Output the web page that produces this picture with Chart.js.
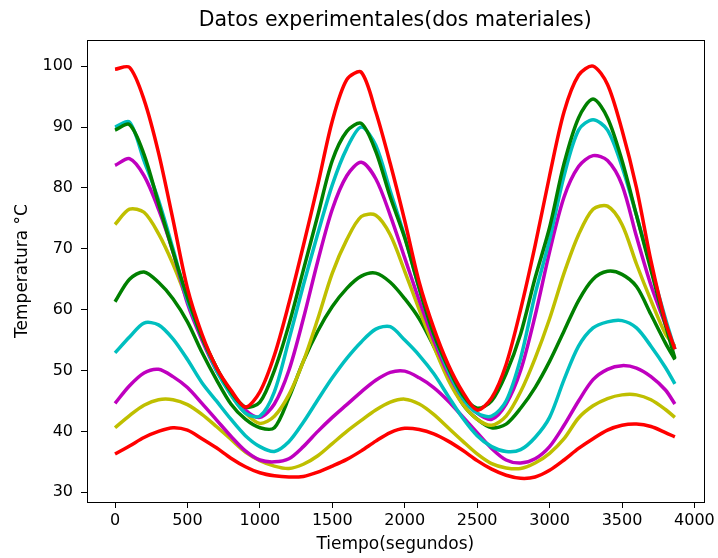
<!DOCTYPE html>
<html>
<head>
<meta charset="utf-8">
<script src="https://cdn.jsdelivr.net/npm/chart.js@4.4.0/dist/chart.umd.min.js"></script>
<style>
  body { margin: 0; background: #fff; }
</style>
</head>
<body>
<canvas id="grafica" width="718" height="558"></canvas>
<script>
// tiempo en segundos
const tiempos = [0, 100, 200, 300, 400, 500, 600, 700, 800, 900,
  1000, 1100, 1200, 1300, 1400, 1500, 1600, 1700, 1800, 1900,
  2000, 2100, 2200, 2300, 2400, 2500, 2600, 2700, 2800, 2900,
  3000, 3100, 3200, 3300, 3400, 3500, 3600, 3700, 3800, 3865];

// material 1 (curvas de mayor amplitud)
const rojo1 = [99.5, 99.8, 94.5, 85.8, 74.8, 63.5, 56, 50.5, 46.8, 44,
  46.5, 52.5, 61, 70.5, 80.5, 91, 97.8, 99, 92.5, 84,
  74.6, 64.5, 57, 51, 46.5, 43.5, 45.5, 51, 60, 70.5,
  82, 92.5, 98.5, 100, 97, 89.5, 80, 68, 58, 53.5];
const verde1 = [89.5, 90.4, 85.5, 77.5, 69.5, 62, 55.5, 50.5, 46.5, 44,
  44.8, 50, 57.5, 66.5, 75.5, 84.5, 89.3, 90.6, 86, 78.5,
  71.8, 63.5, 56, 50.5, 46, 43.8, 45, 49.5, 56, 65.2,
  73.5, 84, 91.5, 94.6, 91.5, 84.5, 75.5, 66.5, 57.5, 52];
const cian1 = [90, 90.8, 84.5, 78, 70, 61.5, 55.5, 50, 46, 43,
  42.5, 46.5, 55, 64, 72.5, 80.5, 86.5, 90, 87, 79.5,
  72, 63.5, 56, 50, 45.5, 43, 42.5, 45, 52, 62.5,
  71.5, 82, 89.5, 91.2, 89.5, 83.5, 75.5, 67, 58.5, 53.5];
const magenta1 = [83.7, 84.8, 82, 76.5, 69.5, 61, 55, 50, 46.5, 43.5,
  42.3, 44.5, 50, 58.5, 68, 76.5, 82, 84.2, 81.5, 75.5,
  68.5, 61.5, 55, 49.5, 45.5, 43, 42, 44.5, 50, 59,
  69.5, 78.5, 83.5, 85.3, 84.5, 80.5, 72, 64, 57.5, 53.5];
const amarillo1 = [74, 76.5, 76, 72.5, 67.5, 61.5, 55.5, 50.5, 46, 43,
  41.3, 42.5, 46, 51.5, 58.5, 66, 71.5, 75.3, 75.5, 72.3,
  66.3, 60, 54, 48.5, 44.5, 42, 41, 42.5, 46.5, 52,
  58.5, 66, 72.3, 76.5, 77, 74, 67.5, 61.5, 56, 54];

// material 2 (curvas de menor amplitud)
const verde2 = [61.3, 65, 66.2, 64.5, 61.8, 58, 53, 48.5, 44.5, 42,
  40.6, 40.6, 45.5, 51.5, 56.5, 60.5, 63.5, 65.5, 66, 64.5,
  61.8, 58.5, 54, 49, 44.5, 42, 40.6, 41.2, 43.8, 47.2,
  51.5, 56.5, 61.5, 65, 66.3, 65.8, 63.8, 59.2, 54.5, 51.8];
const cian2 = [52.9, 55.5, 57.8, 57.5, 55.2, 51.8, 48, 45, 42, 39.3,
  37.5, 36.7, 38.3, 41.5, 45.2, 48.8, 52, 54.7, 56.8, 57.2,
  55, 52.5, 49.5, 45.8, 42.2, 39.3, 37.5, 36.7, 37, 39,
  42.3, 48.5, 54, 57, 58, 58.2, 57, 54, 50.5, 47.8];
const magenta2 = [44.6, 47.5, 49.6, 50.2, 49, 47.2, 44.6, 41.9, 39.2, 36.8,
  35.3, 35, 35.5, 37.5, 40, 42.3, 44.4, 46.5, 48.4, 49.7,
  49.9, 48.8, 47.2, 45, 42.4, 39.8, 37.2, 35.3, 34.8, 35.5,
  37.5, 41, 45, 48.5, 50.2, 50.8, 50.4, 49, 46.8, 44.5];
const amarillo2 = [40.6, 42.6, 44.3, 45.2, 45.2, 44.4, 42.8, 40.8, 38.7, 36.6,
  35.2, 34.3, 33.9, 34.6, 36, 38, 40, 41.8, 43.5, 44.8,
  45.3, 44.5, 42.8, 40.6, 38.4, 36.3, 34.7, 34, 33.9, 34.8,
  36.4, 38.8, 42.2, 44.2, 45.4, 46, 46, 45.2, 43.6, 42.3];
const rojo2 = [36.3, 37.6, 39, 40, 40.6, 40.2, 38.8, 37.3, 35.6, 34.2,
  33.2, 32.7, 32.5, 32.6, 33.3, 34.3, 35.4, 36.8, 38.4, 39.8,
  40.5, 40.3, 39.6, 38.4, 36.9, 35.2, 33.8, 32.8, 32.3, 32.5,
  33.6, 35.3, 37.2, 38.8, 40.2, 41, 41.2, 40.8, 39.8, 39.1];

const xMarcas = [0, 500, 1000, 1500, 2000, 2500, 3000, 3500, 4000];
const yMarcas = [30, 40, 50, 60, 70, 80, 90, 100];

const series = [
  [rojo1, '#ff0000'], [verde1, '#008000'], [cian1, '#00bfbf'], [magenta1, '#bf00bf'], [amarillo1, '#bfbf00'],
  [verde2, '#008000'], [cian2, '#00bfbf'], [magenta2, '#bf00bf'], [amarillo2, '#bfbf00'], [rojo2, '#ff0000']
];

// recuadro completo alrededor del area de datos
const marco = {
  id: 'marco',
  afterDraw(chart) {
    const { ctx, chartArea: a } = chart;
    ctx.save();
    ctx.strokeStyle = '#000';
    ctx.lineWidth = 1;
    ctx.strokeRect(Math.round(a.left) + 0.5, Math.round(a.top) + 0.5,
      Math.round(a.right - a.left), Math.round(a.bottom - a.top));
    ctx.restore();
  }
};

const fuenteTicks = { family: "'DejaVu Sans'", size: 16 };
const fuenteEjes = { family: "'DejaVu Sans'", size: 17 };

new Chart(document.getElementById('grafica'), {
  type: 'line',
  data: {
    datasets: series.map(([vals, color]) => ({
      data: tiempos.map((t, i) => ({ x: t, y: vals[i] })),
      borderColor: color,
      borderWidth: 3.5,
      pointRadius: 0,
      tension: 0.3,
      fill: false
    }))
  },
  options: {
    responsive: false,
    animation: false,
    layout: { padding: { left: 0, right: 11, top: 0, bottom: 0 } },
    plugins: {
      legend: { display: false },
      tooltip: { enabled: false },
      title: {
        display: true,
        fullSize: false,
        text: 'Datos experimentales(dos materiales)',
        color: '#000',
        font: { family: "'DejaVu Sans'", size: 20.5, weight: 'normal' },
        padding: { top: 8, bottom: 7.4 }
      }
    },
    scales: {
      x: {
        type: 'linear',
        min: -193.5,
        max: 4063,
        afterBuildTicks: (s) => { s.ticks = xMarcas.map(v => ({ value: v })); },
        afterFit: (s) => { s.height = 56; },
        grid: { drawOnChartArea: false, drawTicks: true, tickLength: 6, color: '#000' },
        border: { display: true, color: '#000', width: 1 },
        ticks: { color: '#000', font: fuenteTicks, padding: 3, maxRotation: 0, callback: (v) => String(v) },
        title: { display: true, text: 'Tiempo(segundos)', color: '#000', font: fuenteEjes, padding: { top: 2.8, bottom: 2.8 } }
      },
      y: {
        min: 28.4,
        max: 104.3,
        afterBuildTicks: (s) => { s.ticks = yMarcas.map(v => ({ value: v })); },
        afterFit: (s) => { s.width = 87; },
        grid: { drawOnChartArea: false, drawTicks: true, tickLength: 6, color: '#000' },
        border: { display: true, color: '#000', width: 1 },
        ticks: { color: '#000', font: fuenteTicks, padding: 8, callback: (v) => String(v) },
        title: { display: true, text: 'Temperatura °C', color: '#000', font: fuenteEjes, padding: { top: 12, bottom: 12 } }
      }
    }
  },
  plugins: [marco]
});
</script>
</body>
</html>
